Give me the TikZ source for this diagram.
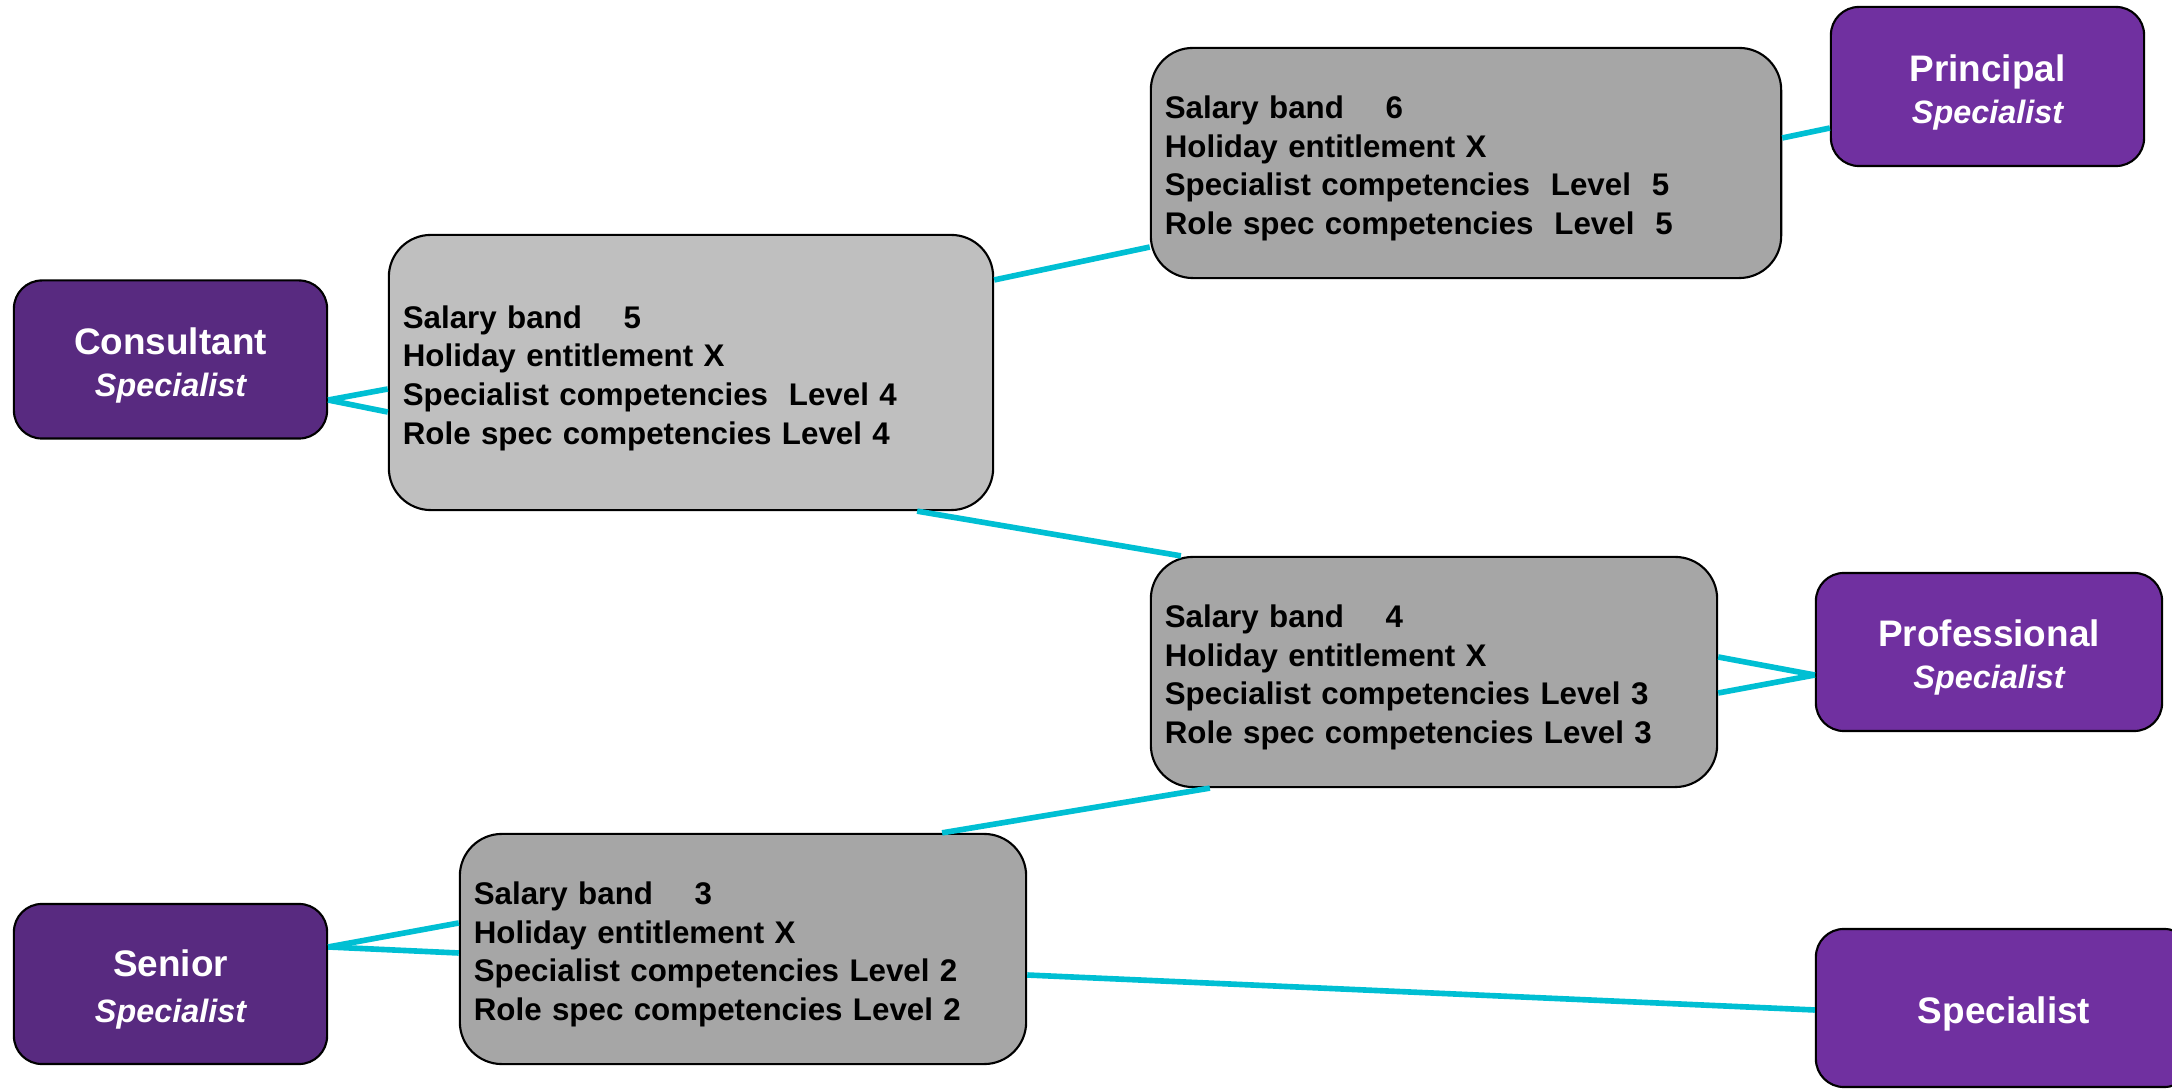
\documentclass[tikz,border=0pt]{standalone}
\usepackage{fontspec}
\setmainfont{Liberation Sans}
\usetikzlibrary{positioning}

\definecolor{roledark}{HTML}{582A80}
\definecolor{rolelight}{HTML}{7030A0}
\definecolor{linkcyan}{HTML}{00BFD3}
\definecolor{bandlight}{HTML}{BFBFBF}
\definecolor{banddark}{HTML}{A6A6A6}

\newcommand{\rolesub}[1]{{\fontsize{9.2}{11}\selectfont\itshape #1}}
\newcommand{\roletop}{\rule{0pt}{10.9pt}}

\begin{document}
\begin{tikzpicture}[x=0.01cm, y=-0.01cm,
  role/.style={rectangle, rounded corners=0.28cm, draw=black, line width=0.6pt,
               text=white, align=center, minimum height=1.58cm, inner sep=0pt,
               font=\fontsize{10.5}{11}\selectfont\bfseries},
  band/.style={rectangle, rounded corners=0.42cm, draw=black, line width=0.6pt,
               align=left, inner xsep=0.14cm, inner ysep=0pt,
               font=\fontsize{8.9}{11}\selectfont\bfseries,
               execute at begin node=\rule{0pt}{9.6pt}},
  link/.style={draw=linkcyan, line width=1.6pt}
]
\useasboundingbox (0,0) rectangle (2172,1092);

% Role boxes
\node[role, fill=roledark, minimum width=3.13cm] (cons) at (170.5,359.5)
  {\roletop Consultant\\[1pt]\rolesub{Specialist}};
\node[role, fill=roledark, minimum width=3.13cm, minimum height=1.6cm] (senior) at (170.5,984)
  {\roletop Senior\\[2pt]\rolesub{Specialist}};
\node[role, fill=rolelight, minimum width=3.13cm, minimum height=1.59cm] (princ) at (1987.5,86.5)
  {\roletop Principal\\[1pt]\rolesub{Specialist}};
\node[role, fill=rolelight, minimum width=3.46cm] (prof) at (1989,652)
  {\roletop Professional\\[1pt]\rolesub{Specialist}};
\node[role, fill=rolelight, minimum width=3.76cm] (spec) at (2004,1008) {\roletop Specialist};

% Band boxes
\node[band, fill=bandlight, text width=5.76cm, minimum height=2.75cm] (band5) at (691,372.5)
  {Salary band\quad\ 5\\
   Holiday entitlement X\\
   Specialist competencies\ \ Level 4\\
   Role spec competencies Level 4};
\node[band, fill=banddark, text width=6.02cm, minimum height=2.3cm] (band6) at (1466,163)
  {Salary band\quad\ 6\\
   Holiday entitlement X\\
   Specialist competencies\ \ Level\ \ 5\\
   Role spec competencies\ \ Level\ \ 5};
\node[band, fill=banddark, text width=5.38cm, minimum height=2.3cm] (band4) at (1434,672)
  {Salary band\quad\ 4\\
   Holiday entitlement X\\
   Specialist competencies Level 3\\
   Role spec competencies Level 3};
\node[band, fill=banddark, text width=5.38cm, minimum height=2.3cm] (band3) at (743,949)
  {Salary band\quad\ 3\\
   Holiday entitlement X\\
   Specialist competencies Level 2\\
   Role spec competencies Level 2};

% Links
\draw[link] ([yshift=-0.405cm]cons.east) -- ([yshift=-0.165cm]band5.west);
\draw[link] ([yshift=-0.405cm]cons.east) -- ([yshift=-0.395cm]band5.west);
\draw[link] ([yshift=0.925cm]band5.east) -- ([yshift=-0.84cm]band6.west);
\draw[link] ([xshift=2.26cm]band5.south) -- ([xshift=-2.53cm]band4.north);
\draw[link] ([yshift=0.25cm]band6.east) -- ([yshift=-0.415cm]princ.west);
\draw[link] ([yshift=0.15cm]band4.east) -- ([yshift=-0.23cm]prof.west);
\draw[link] ([yshift=-0.21cm]band4.east) -- ([yshift=-0.23cm]prof.west);
\draw[link] ([xshift=-2.24cm]band4.south) -- ([xshift=1.99cm]band3.north);
\draw[link] ([yshift=0.37cm]senior.east) -- ([yshift=0.26cm]band3.west);
\draw[link] ([yshift=0.37cm]senior.east) -- ([yshift=-0.04cm]band3.west);
\draw[link] ([yshift=-0.26cm]band3.east) -- ([yshift=-0.02cm]spec.west);

\end{tikzpicture}
\end{document}
